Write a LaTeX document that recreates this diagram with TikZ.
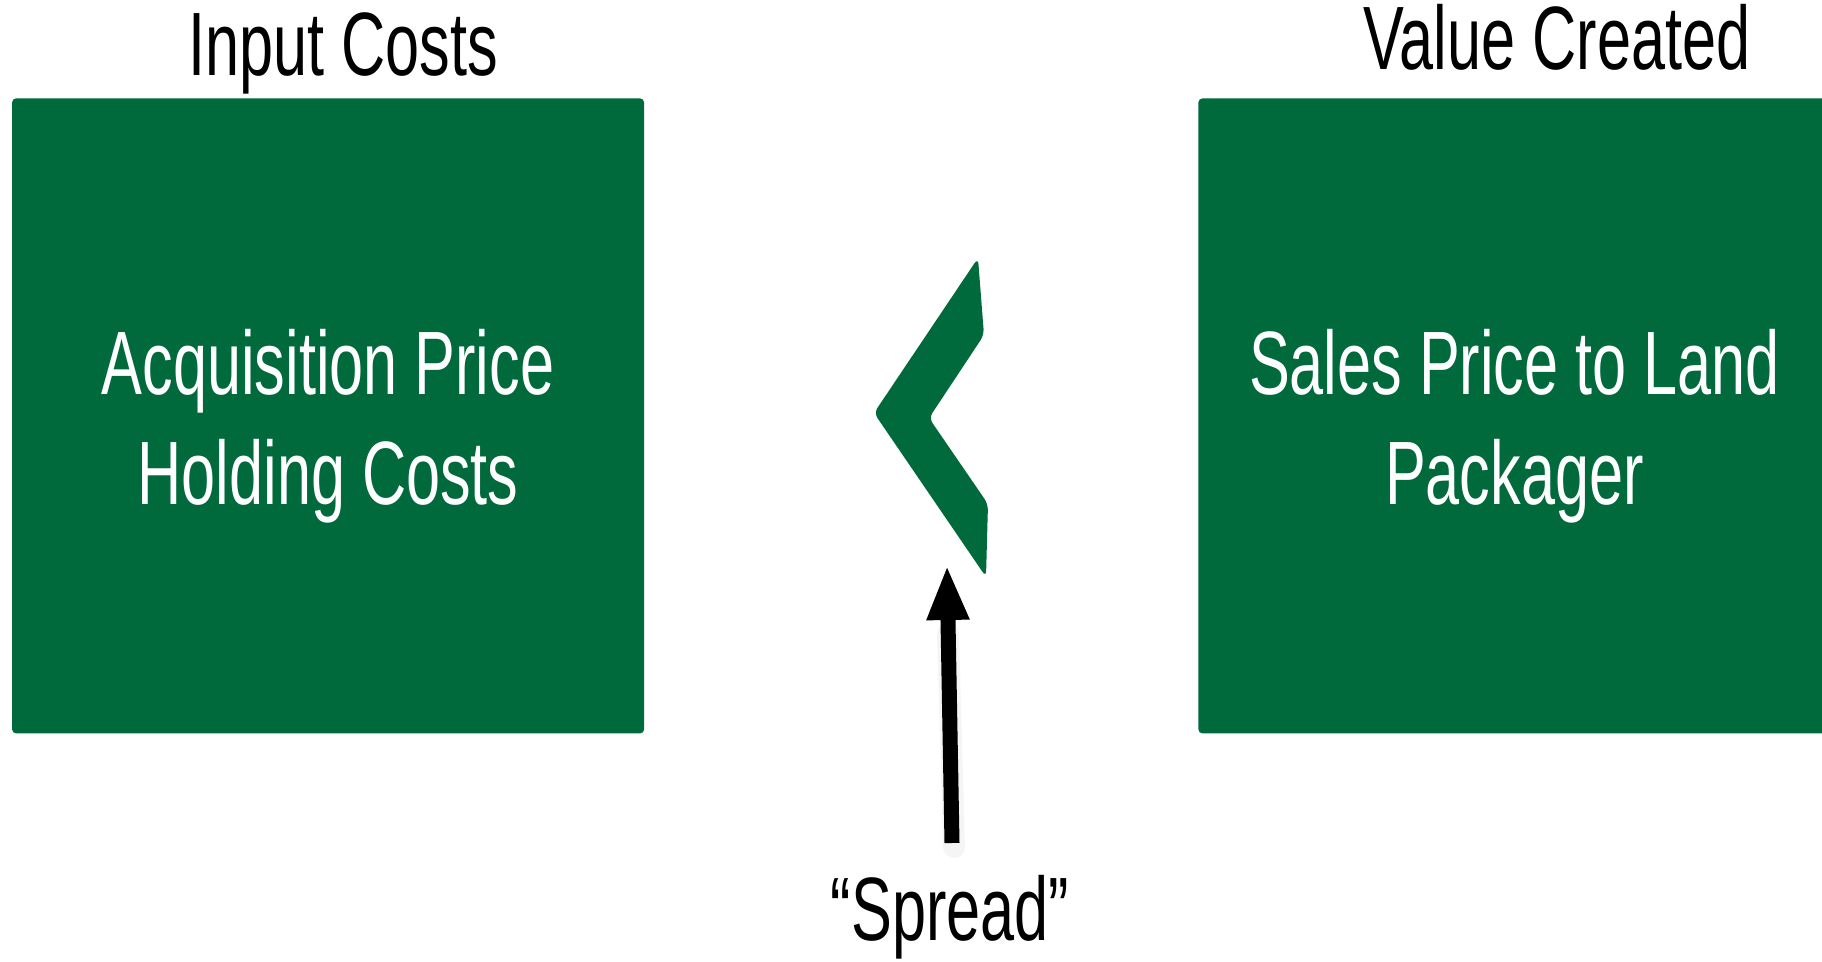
\documentclass[tikz,border=0pt]{standalone}
\usepackage{fontspec}
\usetikzlibrary{arrows.meta}
\newfontfamily\narrowsf[FakeStretch=0.68]{Liberation Sans}
\definecolor{deepgreen}{HTML}{006A3C}
\begin{document}
\begin{tikzpicture}[x=0.5pt,y=-0.5pt,
  greenbox/.style={draw=none,fill=deepgreen,rounded corners=2pt,
    minimum width=316pt,minimum height=317.5pt,inner sep=0pt,anchor=north west},
  boxtext/.style={text=white,align=center,inner sep=0pt,
    font=\narrowsf\fontsize{45}{55}\selectfont},
  heading/.style={text=black,inner sep=0pt,anchor=base,
    font=\narrowsf\fontsize{45}{55}\selectfont},
  spreadarrow/.style={line width=7.5pt,-{Triangle[width=19.5pt,length=27.5pt]}}]
\useasboundingbox (0,0) rectangle (1822,962);
\clip (0,0) rectangle (1822,962);

% the two green panels
\node[greenbox] (costbox) at (11.7,98) {};
\node[greenbox] (valuebox) at (1198,98) {};
\node[boxtext] (costtext) at ([yshift=-5pt]costbox.center) {Acquisition Price\\Holding Costs};
\node[boxtext] (valuetext) at ([yshift=-5pt]valuebox.center) {Sales Price to Land\\Packager};

% headings
\node[heading] (costhead) at (343,76) {Input Costs};
\node[heading] (valuehead) at (1557,70) {Value Created};

% the "less than" chevron between the panels
\fill[deepgreen,rounded corners=3pt]
  (978,258) -- (984,335) -- (929,418) -- (988,504) -- (986,577)
  -- (874,413) -- cycle;

% label and arrow pointing at the chevron
\node[heading] (spread) at (950,940) {“Spread”};
\coordinate (arrowtail) at (952,843);
\coordinate (arrowtip) at (947,565);
\begin{scope}[opacity=0.08]
  \draw[line width=11pt,gray,line cap=round] ([xshift=1pt,yshift=-2pt]arrowtail) -- ([xshift=0.5pt,yshift=-2pt]arrowtip |- 0,630);
\end{scope}
\draw[spreadarrow] (arrowtail) -- (arrowtip);
\end{tikzpicture}
\end{document}
